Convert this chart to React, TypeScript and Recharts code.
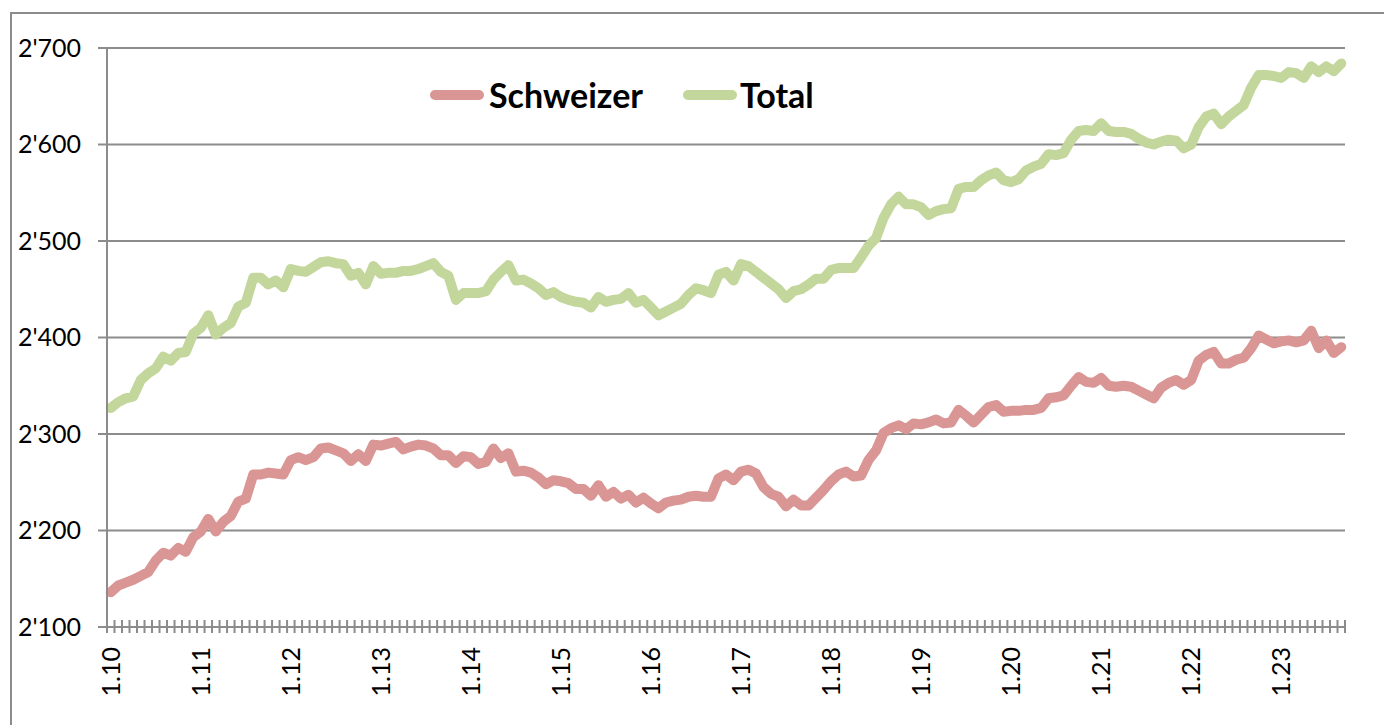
import { LineChart, Line, XAxis, YAxis, CartesianGrid } from 'recharts';

const AXIS = '#8c8c8c';
const FONT = 'Lato, "Open Sans", sans-serif';

// monthly, 1.2010 .. 9.2023
const schweizer = [
  2136, 2143, 2146, 2149, 2153, 2157, 2169, 2177, 2174, 2182, 2178, 2193,
  2199, 2212, 2199, 2209, 2215, 2230, 2233, 2258, 2258, 2260, 2259, 2258,
  2273, 2276, 2273, 2276, 2285, 2286, 2283, 2280, 2272, 2279, 2272, 2289,
  2288, 2290, 2292, 2284, 2287, 2289, 2288, 2285, 2278, 2278, 2270, 2277,
  2276, 2269, 2271, 2285, 2275, 2280, 2261, 2262, 2260, 2255, 2248, 2252,
  2251, 2249, 2243, 2243, 2236, 2247, 2235, 2240, 2233, 2237, 2229, 2234,
  2228, 2223, 2229, 2231, 2232, 2235, 2236, 2235, 2235, 2254, 2258, 2252,
  2261, 2263, 2259, 2245, 2238, 2235, 2225, 2232, 2226, 2226, 2234, 2242,
  2251, 2258, 2261, 2256, 2257, 2273, 2283, 2301, 2306, 2309, 2305, 2311,
  2310, 2312, 2315, 2311, 2312, 2325, 2319, 2312, 2320, 2328, 2330, 2323,
  2324, 2324, 2325, 2325, 2327, 2337, 2338, 2340, 2350, 2359, 2354, 2353,
  2358, 2350, 2349, 2350, 2349, 2345, 2341, 2337, 2348, 2353, 2356, 2351,
  2356, 2376, 2382, 2385, 2373, 2373, 2377, 2379, 2389, 2402, 2398, 2394,
  2396, 2397, 2395, 2397, 2407, 2389, 2397, 2384, 2390,
];

const total = [
  2327, 2333, 2337, 2339, 2356, 2363, 2368, 2380, 2376, 2384, 2385, 2404,
  2410, 2423, 2403, 2410, 2415, 2432, 2436, 2462, 2462, 2455, 2459, 2452,
  2471, 2469, 2468, 2473, 2478, 2479, 2477, 2476, 2464, 2467, 2455, 2474,
  2466, 2467, 2467, 2469, 2469, 2471, 2474, 2477, 2468, 2464, 2439, 2446,
  2446, 2446, 2448, 2460, 2468, 2475, 2459, 2460, 2456, 2451, 2444, 2447,
  2442, 2439, 2437, 2436, 2431, 2442, 2437, 2439, 2440, 2446, 2436, 2439,
  2431, 2423, 2427, 2431, 2435, 2444, 2451, 2449, 2446, 2465, 2468, 2459,
  2476, 2474, 2468, 2462, 2456, 2450, 2441, 2448, 2450, 2455, 2461, 2461,
  2470, 2472, 2472, 2472, 2483, 2495, 2503, 2524, 2538, 2546, 2538, 2538,
  2535, 2527, 2531, 2533, 2534, 2554, 2556, 2556, 2563, 2568, 2571, 2563,
  2561, 2564, 2573, 2577, 2580, 2590, 2589, 2591, 2605, 2614, 2615, 2614,
  2622, 2614, 2613, 2613, 2611, 2606, 2602, 2600, 2603, 2605, 2604, 2596,
  2600, 2618, 2629, 2632, 2621, 2629, 2635, 2641, 2659, 2672, 2672, 2671,
  2669, 2675, 2674, 2669, 2681, 2675, 2681, 2676, 2684,
];

const yearLabels = [
  '1.10', '1.11', '1.12', '1.13', '1.14', '1.15', '1.16',
  '1.17', '1.18', '1.19', '1.20', '1.21', '1.22', '1.23',
];

const yTicks = [2100, 2200, 2300, 2400, 2500, 2600, 2700];

const series = [
  { key: 'schweizer', name: 'Schweizer', color: '#d99694' },
  { key: 'total', name: 'Total', color: '#c3d69b' },
];

const data = schweizer.map((v, i) => ({ idx: i, schweizer: v, total: total[i] }));

// month boundaries get a cross tick, January centres get the year label
const boundaryTicks = [...data.map((d) => d.idx - 0.5), data.length - 0.5];
const labelTicks = yearLabels.map((_, k) => k * 12);
const xTicks = [...boundaryTicks, ...labelTicks].sort((a, b) => a - b);

const fmtY = (v: number) => {
  const s = String(v);
  return s.slice(0, -3) + "'" + s.slice(-3);
};

function XTick({ x, y, payload }: any) {
  const v = payload.value as number;
  if (!Number.isInteger(v)) {
    return <line x1={x} x2={x} y1={y - 7} y2={y + 6} stroke={AXIS} strokeWidth={2} />;
  }
  const ty = y + 20;
  return (
    <text
      x={x}
      y={ty}
      transform={`rotate(-90, ${x}, ${ty})`}
      textAnchor="end"
      dy="0.36em"
      fill="#000"
      fontSize={25}
      fontFamily={FONT}
    >
      {yearLabels[v / 12]}
    </text>
  );
}

function ChartLegend() {
  return (
    <div
      style={{
        position: 'absolute',
        left: 430,
        top: 74,
        display: 'flex',
        alignItems: 'center',
        fontFamily: FONT,
        fontWeight: 700,
        fontSize: 34,
        color: '#000',
      }}
    >
      {series.map((s, i) => (
        <div key={s.key} style={{ display: 'flex', alignItems: 'center', marginLeft: i ? 40 : 0 }}>
          <svg width={54} height={12} style={{ marginRight: i ? 3 : 5 }}>
            <line x1={5} x2={49} y1={6} y2={6} stroke={s.color} strokeWidth={10} strokeLinecap="round" />
          </svg>
          <span>{s.name}</span>
        </div>
      ))}
    </div>
  );
}

export default function App() {
  return (
    <div style={{ position: 'relative', width: 1384, height: 725, overflow: 'hidden', background: '#fff' }}>
      <style>{'body{margin:0}'}</style>
      <div
        style={{
          position: 'absolute',
          left: 10,
          top: 12,
          width: 1400,
          height: 800,
          borderLeft: `2px solid ${AXIS}`,
          borderTop: `2px solid ${AXIS}`,
        }}
      />
      <LineChart
        width={1384}
        height={725}
        data={data}
        margin={{ top: 48, right: 39, bottom: 0, left: 0 }}
        style={{ position: 'absolute', left: 0, top: 0 }}
      >
        <CartesianGrid vertical={false} stroke={AXIS} strokeWidth={2} />
        <XAxis
          dataKey="idx"
          type="number"
          domain={[-0.5, data.length - 0.5]}
          ticks={xTicks}
          interval={0}
          height={98}
          tickLine={false}
          tickSize={0}
          tickMargin={0}
          axisLine={{ stroke: AXIS, strokeWidth: 2 }}
          tick={<XTick />}
        />
        <YAxis
          type="number"
          domain={[2100, 2700]}
          ticks={yTicks}
          width={107}
          tickSize={9}
          tickMargin={17}
          tickFormatter={fmtY}
          tickLine={{ stroke: AXIS, strokeWidth: 2 }}
          axisLine={{ stroke: AXIS, strokeWidth: 2 }}
          tick={{ fill: '#000', fontSize: 25, fontFamily: FONT }}
        />
        {series.map((s) => (
          <Line
            key={s.key}
            dataKey={s.key}
            name={s.name}
            stroke={s.color}
            strokeWidth={10}
            strokeLinejoin="round"
            strokeLinecap="round"
            dot={false}
            activeDot={false}
            type="linear"
            isAnimationActive={false}
          />
        ))}
      </LineChart>
      <ChartLegend />
    </div>
  );
}
